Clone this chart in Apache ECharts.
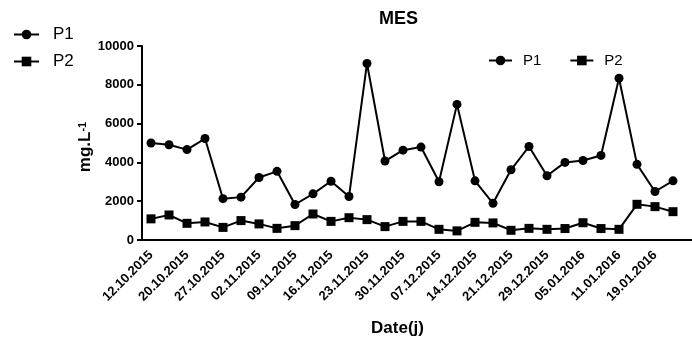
<!DOCTYPE html>
<html>
<head>
<meta charset="utf-8">
<script src="https://cdn.jsdelivr.net/npm/echarts@6/dist/echarts.min.js"></script>
<style>html,body{margin:0;padding:0;background:#fff}#c{width:692px;height:342px}</style>
</head>
<body>
<div id="c"></div>
<script>
// Tick labels shown on every second sampling date
const tickLabels = ['12.10.2015','20.10.2015','27.10.2015','02.11.2015','09.11.2015','16.11.2015','23.11.2015','30.11.2015','07.12.2015','14.12.2015','21.12.2015','29.12.2015','05.01.2016','11.01.2016','19.01.2016'];
const P1 = [5000,4910,4660,5230,2130,2210,3220,3540,1830,2380,3030,2240,9100,4070,4630,4790,3000,6990,3050,1890,3620,4820,3310,4000,4100,4360,8340,3900,2500,3050];
const P2 = [1090,1290,860,930,650,1000,830,600,740,1340,960,1150,1050,690,960,960,550,470,910,880,500,600,550,590,890,590,550,1840,1720,1460];
const yTicks = {min: 0, max: 10000, interval: 2000};

// 30 sampling dates (labels only on every 2nd), plus one empty slot so the axis runs on to the edge
const categories = [];
for (let i = 0; i < P1.length; i++) categories.push(i % 2 === 0 ? tickLabels[i / 2] : ' ');
categories.push(' ');

const FONT = 'Liberation Sans, Arial, sans-serif';
const chart = echarts.init(document.getElementById('c'));
chart.setOption({
  animation: false,
  backgroundColor: '#fff',
  title: {
    text: 'MES', left: 374, top: 5,
    textStyle: {fontFamily: FONT, fontSize: 18, fontWeight: 'bold', color: '#000'}
  },
  legend: [
    {
      data: ['P1', 'P2'], orient: 'vertical', left: 8, top: 21,
      itemWidth: 25, itemHeight: 12, itemGap: 10,
      textStyle: {fontFamily: FONT, fontSize: 17, color: '#000', padding: [0, 0, 0, 9]}
    },
    {
      data: ['P1', 'P2'], orient: 'horizontal', left: 483, top: 48,
      itemWidth: 23, itemHeight: 12, itemGap: 28,
      textStyle: {fontFamily: FONT, fontSize: 15, color: '#000', padding: [0, 0, 0, 6]}
    }
  ],
  grid: {left: 142, top: 46, bottom: 102, width: 558, containLabel: false, outerBoundsMode: 'none'},
  xAxis: {
    type: 'category', data: categories, boundaryGap: true,
    name: 'Date(j)', nameLocation: 'middle', nameGap: 80, nameMoveOverlap: false,
    nameTextStyle: {fontFamily: FONT, fontSize: 17, fontWeight: 'bold', color: '#000', padding: [0, 47, 0, 0]},
    axisLine: {lineStyle: {color: '#000', width: 2}},
    axisTick: {alignWithLabel: true, interval: (i) => i % 2 === 0 && i < P1.length, length: 5, lineStyle: {color: '#000', width: 2}},
    axisLabel: {interval: 1, rotate: 45, margin: 13, fontFamily: FONT, fontSize: 13, fontWeight: 'bold', color: '#000'},
    splitLine: {show: false}
  },
  yAxis: {
    type: 'value', min: yTicks.min, max: yTicks.max, interval: yTicks.interval,
    name: '{a|mg.L}{b|-1}', nameLocation: 'middle', nameGap: 48, nameRotate: 90, nameMoveOverlap: false,
    nameTextStyle: {
      color: '#000', fontFamily: FONT, padding: [0, 8, 0, 0],
      rich: {
        a: {fontFamily: FONT, fontSize: 17, fontWeight: 'bold', color: '#000', verticalAlign: 'bottom'},
        b: {fontFamily: FONT, fontSize: 11, fontWeight: 'bold', color: '#000', verticalAlign: 'top'}
      }
    },
    axisLine: {show: true, lineStyle: {color: '#000', width: 2}},
    axisTick: {show: true, length: 5, lineStyle: {color: '#000', width: 2}},
    axisLabel: {margin: 8, fontFamily: FONT, fontSize: 13, fontWeight: 'bold', color: '#000', formatter: (v) => String(v)},
    splitLine: {show: false}
  },
  series: [
    {
      name: 'P1', type: 'line', data: P1, symbol: 'circle', symbolSize: 9,
      lineStyle: {color: '#000', width: 2}, itemStyle: {color: '#000'}
    },
    {
      name: 'P2', type: 'line', data: P2, symbol: 'rect', symbolSize: 9,
      lineStyle: {color: '#000', width: 2}, itemStyle: {color: '#000'}
    }
  ]
});
</script>
</body>
</html>
